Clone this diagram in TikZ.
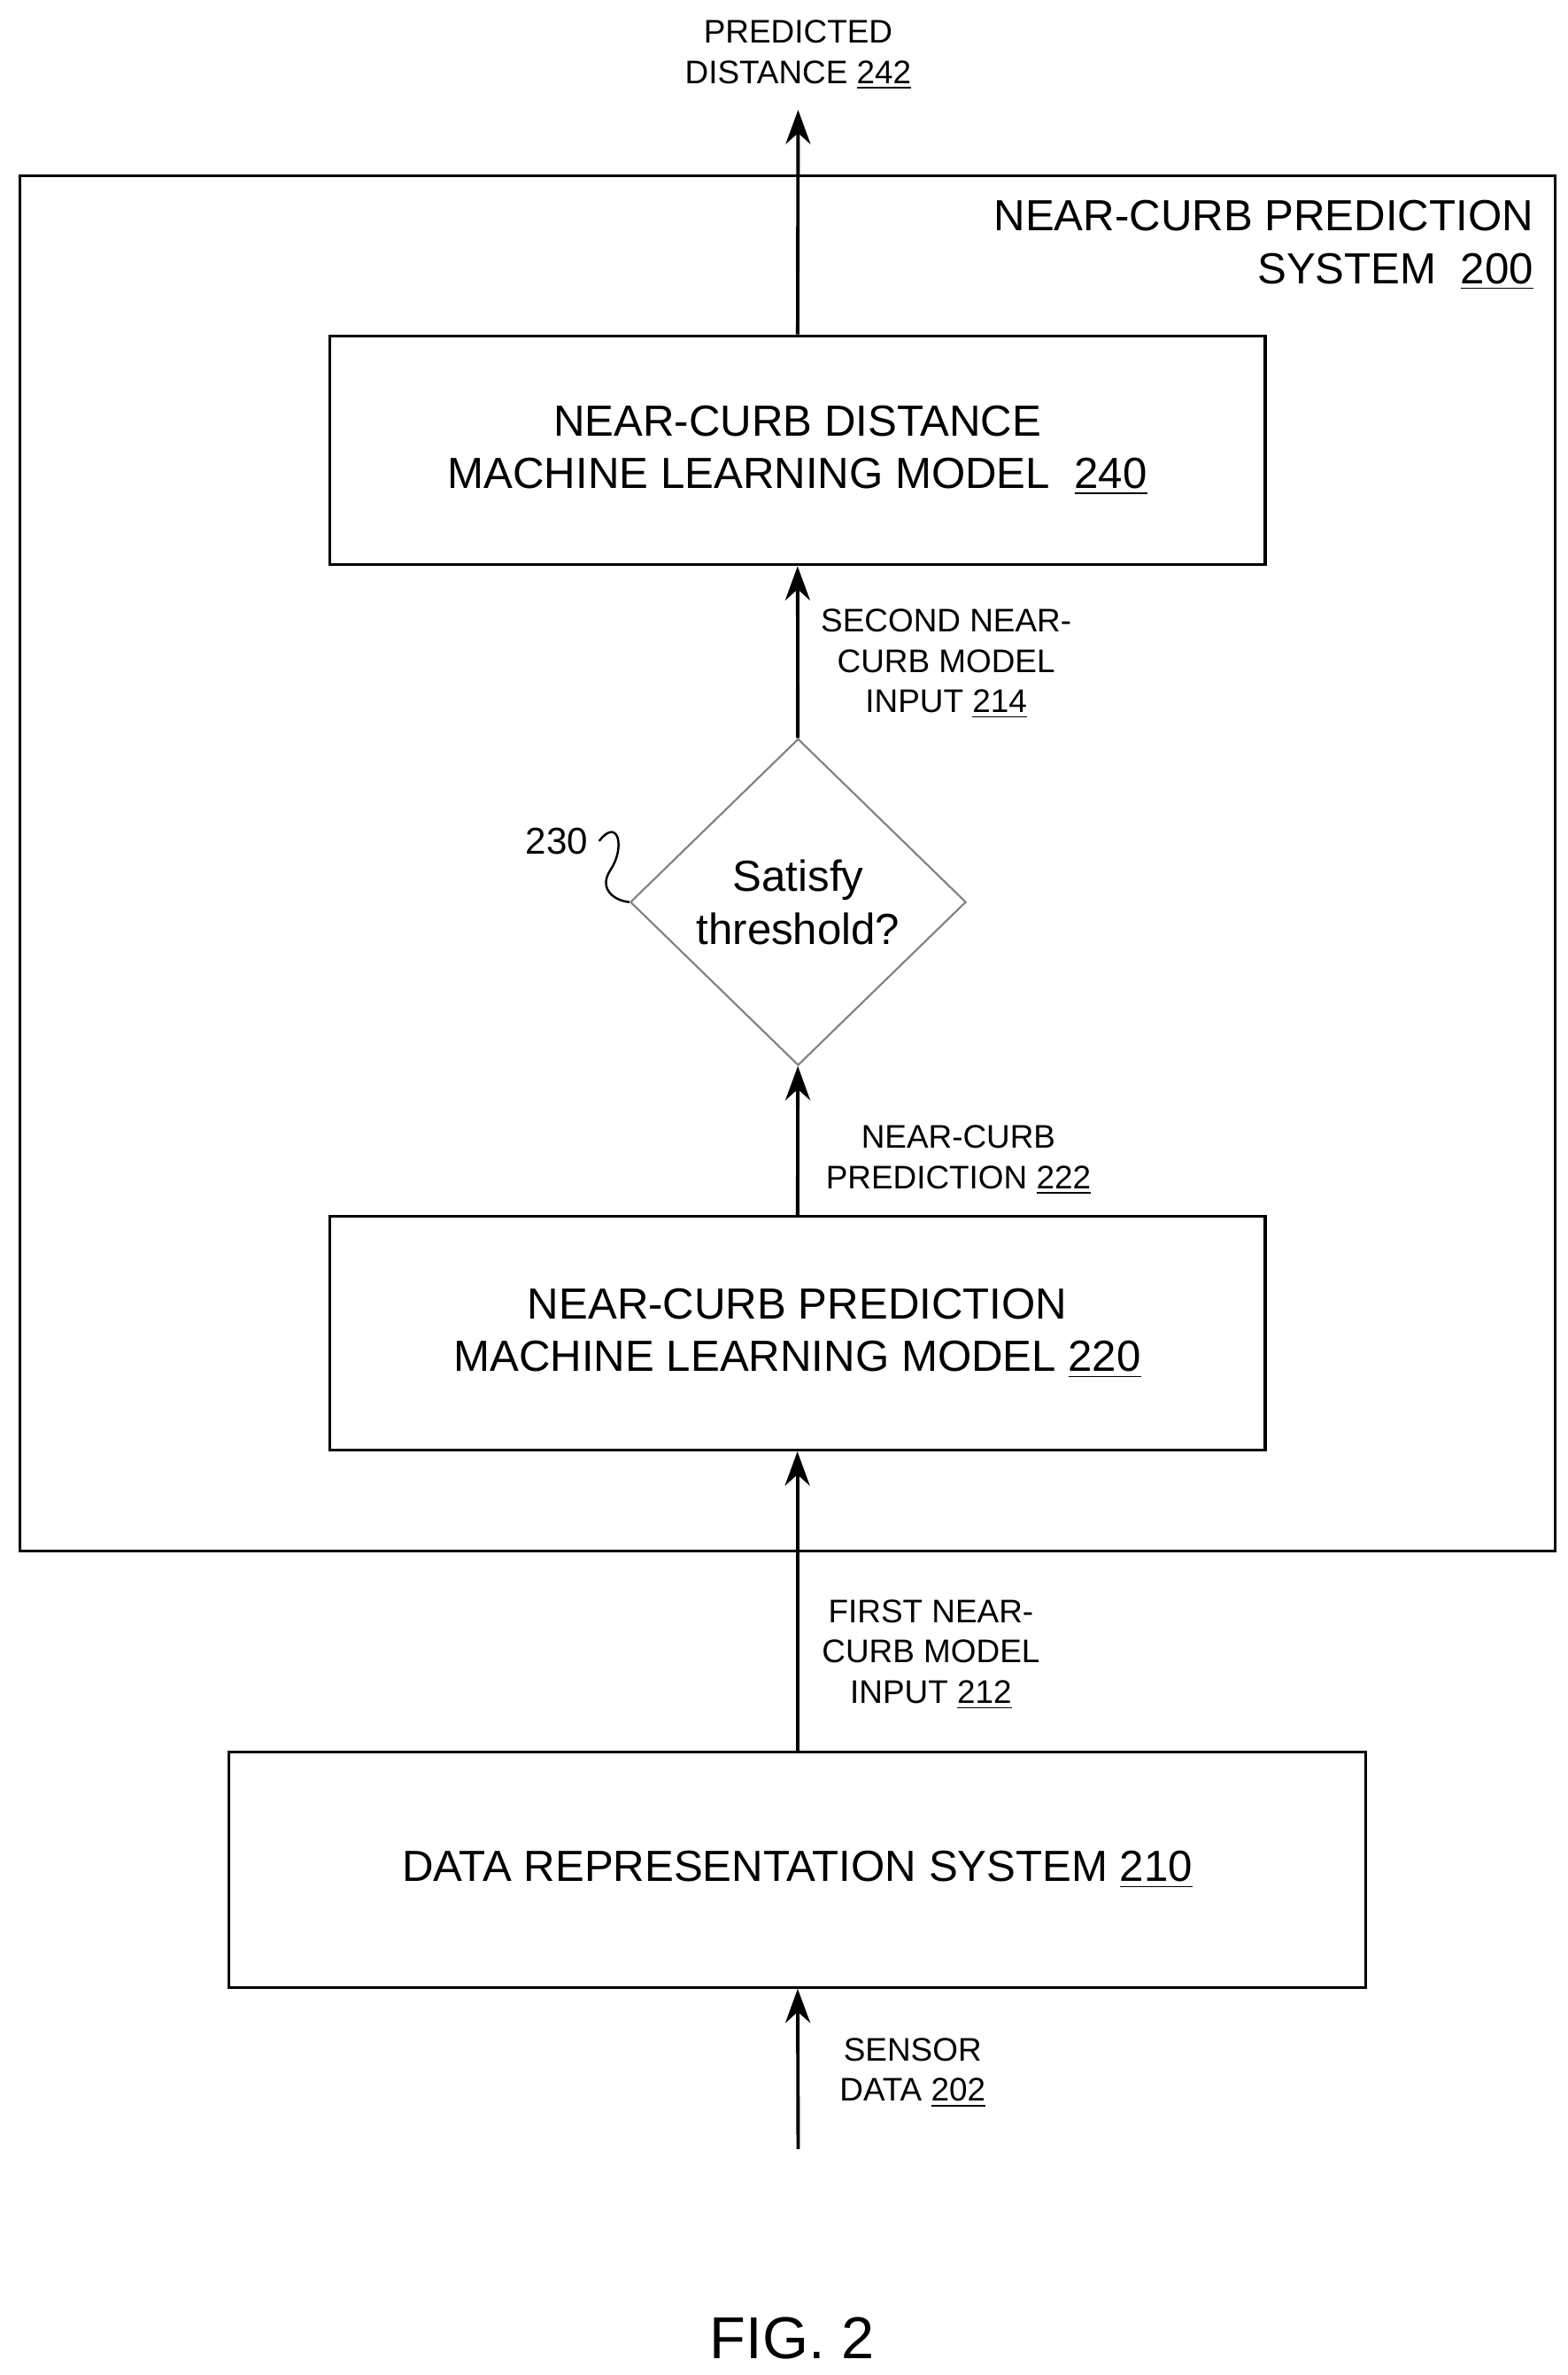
\documentclass[tikz,border=0pt]{standalone}
\usepackage{fontspec}
\setmainfont{Liberation Sans}
\usetikzlibrary{positioning, shapes.geometric, arrows.meta}

\begin{document}
\begin{tikzpicture}[x=0.01724cm, y=-0.01724cm,
                    every node/.style = {text=black, font=\fontsize{14pt}{17pt}\selectfont},
                    box/.style = {draw, line width=0.9pt, inner sep=0pt},
                    lbl/.style = {align=center, font=\fontsize{10.5pt}{13pt}\selectfont},
                    flow/.style = {draw, line width=1.1pt, -{Stealth[length=11pt, width=8pt]}}]
    \useasboundingbox (0,0) rectangle (1027,1556);
    \draw[line width=0.9pt] (13,115) rectangle (1019,1016);
    \node (sys) [anchor=north east, align=right] at (1012,124) {NEAR-CURB PREDICTION\\SYSTEM~~\underline{200}};
    \node (m240) [box, minimum width=613*0.01724cm, minimum height=150*0.01724cm, align=center] at (522.5,295)
        {NEAR-CURB DISTANCE\\MACHINE LEARNING MODEL~~\underline{240}};
    \node (thr) [diamond, draw=gray, line width=0.6pt, minimum width=220*0.01724cm, minimum height=214*0.01724cm,
        inner sep=0pt, align=center] at (523,591) {Satisfy\\threshold?};
    \node (m220) [box, minimum width=613*0.01724cm, minimum height=153*0.01724cm, align=center] at (522.5,873.5)
        {NEAR-CURB PREDICTION\\MACHINE LEARNING MODEL \underline{220}};
    \node (s210) [box, minimum width=745*0.01724cm, minimum height=154*0.01724cm] at (522.5,1225)
        {DATA REPRESENTATION SYSTEM \underline{210}};
    \coordinate (out) at (523,72);
    \coordinate (in) at (523,1408);
    \node (o242) [lbl] at (523,36) {PREDICTED\\DISTANCE \underline{242}};
    \node (i214) [lbl] at (620,435) {SECOND NEAR-\\CURB MODEL\\INPUT \underline{214}};
    \node (p222) [lbl] at (628,760) {NEAR-CURB\\PREDICTION \underline{222}};
    \node (i212) [lbl] at (610,1084) {FIRST NEAR-\\CURB MODEL\\INPUT \underline{212}};
    \node (d202) [lbl] at (598,1358) {SENSOR\\DATA \underline{202}};
    \node (n230) [lbl, font=\fontsize{12pt}{14pt}\selectfont] at (365,551) {230};
    \draw[line width=0.7pt] (n230.east) .. controls (405,535) and (410,555) .. (400,570)
        .. controls (392,582) and (402,590) .. (thr.west);
    \draw[flow] (m240) -- (out);
    \draw[flow] (thr) -- (m240);
    \draw[flow] (m220) -- (thr);
    \draw[flow] (s210) -- (m220);
    \draw[flow] (in) -- (s210);
    \node (fig) [font=\fontsize{19pt}{22pt}\selectfont] at (519,1532) {FIG. 2};
\end{tikzpicture}
\end{document}
